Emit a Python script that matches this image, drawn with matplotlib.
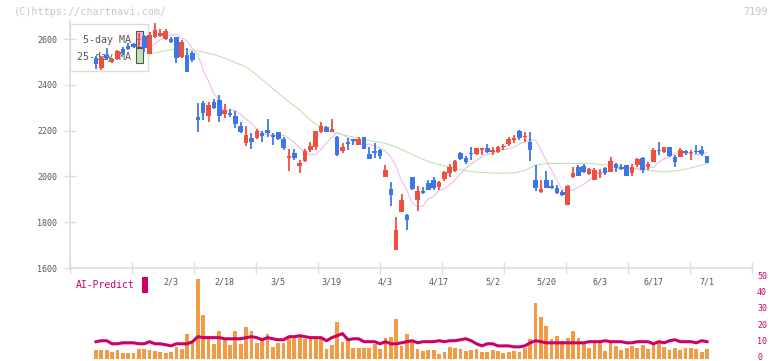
import numpy as np
import pandas as pd
import matplotlib
matplotlib.use('Agg')
import matplotlib.pyplot as plt
import matplotlib.transforms as mtransforms
from matplotlib.patches import Rectangle

# daily OHLC, 115 sessions (red = close above open)
opens = [2518, 2475, 2530, 2501, 2511, 2555, 2571, 2578, 2595, 2614,
         2535, 2609, 2615, 2601, 2599, 2607, 2521, 2530, 2540, 2261,
         2319, 2265, 2324, 2334, 2272, 2278, 2264, 2220, 2147, 2169,
         2166, 2191, 2203, 2181, 2194, 2163, 2082, 2103, 2047, 2069,
         2115, 2130, 2195, 2214, 2195, 2173, 2112, 2150, 2163, 2137,
         2171, 2098, 2111, 2115, 1999, 1945, 1679, 1846, 1831, 1997,
         1897, 1936, 1972, 1984, 1955, 1989, 2016, 2024, 2103, 2082,
         2101, 2098, 2117, 2125, 2108, 2108, 2127, 2141, 2159, 2198,
         2171, 2149, 1984, 1933, 1984, 1958, 1951, 1933, 1875, 1996,
         2042, 2047, 2009, 1984, 2010, 2035, 2021, 2053, 2042, 2050,
         2016, 2050, 2079, 2040, 2064, 2115, 2108, 2127, 2086, 2086,
         2111, 2101, 2111, 2115, 2090]
highs = [2526, 2525, 2562, 2518, 2553, 2566, 2583, 2581, 2625, 2617,
         2630, 2669, 2642, 2644, 2607, 2610, 2595, 2561, 2548, 2322,
         2329, 2324, 2338, 2355, 2316, 2294, 2286, 2236, 2220, 2191,
         2206, 2200, 2251, 2191, 2195, 2173, 2118, 2120, 2072, 2120,
         2149, 2198, 2236, 2220, 2251, 2178, 2145, 2166, 2163, 2171,
         2172, 2127, 2147, 2118, 2050, 1977, 1824, 1923, 1835, 1999,
         1958, 1955, 1984, 1999, 1980, 2024, 2053, 2072, 2108, 2089,
         2130, 2125, 2125, 2141, 2130, 2134, 2140, 2173, 2181, 2203,
         2195, 2195, 2050, 1984, 2024, 1984, 1962, 1941, 1962, 2042,
         2050, 2053, 2038, 2038, 2032, 2042, 2086, 2060, 2053, 2050,
         2053, 2082, 2086, 2064, 2123, 2152, 2130, 2130, 2093, 2123,
         2115, 2115, 2137, 2133, 2090]
lows = [2470, 2465, 2508, 2494, 2508, 2531, 2552, 2559, 2566, 2542,
        2535, 2604, 2607, 2596, 2581, 2497, 2517, 2456, 2500, 2195,
        2246, 2239, 2294, 2239, 2256, 2261, 2213, 2188, 2133, 2120,
        2162, 2152, 2173, 2137, 2159, 2115, 2025, 2072, 2016, 2062,
        2108, 2115, 2190, 2194, 2194, 2089, 2104, 2115, 2137, 2137,
        2120, 2076, 2082, 2076, 1999, 1871, 1679, 1846, 1766, 1941,
        1851, 1922, 1941, 1941, 1941, 1980, 1999, 2020, 2072, 2054,
        2072, 2093, 2093, 2102, 2093, 2101, 2115, 2134, 2147, 2159,
        2149, 2069, 1938, 1926, 1948, 1945, 1923, 1914, 1873, 1992,
        2002, 2014, 2006, 1984, 1994, 2006, 2021, 2021, 2028, 2002,
        2003, 2040, 2014, 2028, 2063, 2093, 2101, 2085, 2042, 2085,
        2093, 2072, 2096, 2090, 2057]
closes = [2490, 2518, 2518, 2511, 2548, 2540, 2555, 2566, 2600, 2562,
          2617, 2639, 2628, 2637, 2587, 2519, 2587, 2457, 2508, 2246,
          2278, 2312, 2300, 2265, 2290, 2268, 2230, 2194, 2181, 2151,
          2200, 2178, 2188, 2173, 2165, 2125, 2089, 2082, 2060, 2112,
          2133, 2198, 2221, 2195, 2207, 2093, 2127, 2143, 2156, 2163,
          2121, 2077, 2103, 2090, 2028, 1919, 1766, 1897, 1810, 1945,
          1936, 1929, 1941, 1948, 1977, 2020, 2042, 2067, 2076, 2064,
          2097, 2123, 2123, 2105, 2112, 2127, 2133, 2163, 2169, 2169,
          2176, 2115, 1948, 1946, 1948, 1951, 1926, 1919, 1959, 2016,
          2003, 2020, 2032, 2028, 2016, 2016, 2069, 2035, 2031, 2003,
          2040, 2075, 2028, 2054, 2115, 2111, 2127, 2090, 2064, 2115,
          2101, 2105, 2105, 2096, 2057]

# 25-day moving average, read every second session from index 10
ma25_idx = list(range(10, 115, 2))
ma25 = [2534, 2545, 2554, 2556, 2552, 2543, 2532, 2517, 2497, 2478,
        2443, 2403, 2364, 2325, 2290, 2246, 2211, 2194, 2183, 2172,
        2161, 2152, 2144, 2128, 2107, 2085, 2065, 2052, 2041, 2030,
        2021, 2017, 2015, 2014, 2015, 2026, 2050, 2056, 2057, 2057,
        2057, 2057, 2052, 2048, 2041, 2035, 2030, 2024, 2020, 2024,
        2032, 2043, 2056]

# lower panel
volume = [5.6, 5.6, 5.6, 4.4, 5.6, 3.8, 3.8, 3.8, 6.3, 6.3, 5.6, 5.0, 4.4, 3.8, 4.4, 7.5, 6.3, 15.7, 11.3,
          49.6, 27, 14.4, 9.4, 17.6, 12.5, 8.8, 17.6, 9.4, 19.5, 17.6, 10, 12.5, 15.7, 7.5, 10, 10, 14.4, 14.4,
          13.8, 12.5, 12.5, 12.5, 13.8, 6.3, 8.8, 22.6, 10.7, 12.5, 6.9, 6.9, 6.9, 6.9, 9.4, 6.3, 13.2, 13.8, 24.5,
          8.1, 15.7, 10.7, 6.3, 5.0, 5.6, 5.6, 3.1, 4.4, 7.5, 6.9, 6.3, 5.0, 5.6, 6.3, 4.4, 4.4, 5.6, 5.0,
          3.8, 4.4, 5.0, 4.4, 6.9, 12.5, 34.5, 25.7, 20.1, 12.5, 14.4, 11.3, 13.2, 17.6, 13.2, 10, 6.9, 10, 11.9,
          5.0, 11.3, 8.1, 5.6, 6.9, 8.1, 6.9, 8.8, 6.3, 8.8, 10.7, 7.5, 5.6, 6.9, 5.6, 6.9, 6.9, 6.3, 4.4, 6.3]
ai_predict = [10.7, 11.3, 11.3, 9.4, 9.4, 10, 10, 10, 9.4, 9.4, 10.7, 9.4, 9.4, 8.8, 8.1, 9.4, 9.4, 9.4, 10.7,
              13.8, 13.2, 13.2, 13.2, 13.2, 12.5, 12.5, 12.5, 12.5, 13.2, 13.8, 13.2, 11.9, 13.2, 12.5, 11.9, 11.9, 13.8, 13.8,
              14.4, 13.8, 13.2, 13.2, 13.2, 11.3, 13.2, 14.4, 15.7, 11.9, 12.5, 12.5, 10.7, 10.7, 10.7, 9.4, 10.7, 9.4, 9.4,
              10, 10.7, 11.3, 10, 10.7, 10.7, 10.7, 11.3, 10.7, 11.3, 11.3, 11.9, 12.5, 11.3, 9.4, 8.1, 9.4, 9.4, 8.1,
              8.1, 8.1, 7.5, 7.5, 8.1, 10, 11.3, 10.7, 10, 10, 10, 10, 10, 10, 10, 10, 10.7, 10.7, 10.7,
              11.3, 10.7, 10.7, 10.7, 10, 10, 10.7, 10.7, 10.7, 9.4, 10.7, 10, 11.3, 11.9, 10.7, 10.7, 10.7, 10, 11.3, 10.7]

date_labels = ['2/3', '2/18', '3/5', '3/19', '4/3', '4/17', '5/2', '5/20', '6/3', '6/17', '7/1']
date_idx = [14, 24, 34, 44, 54, 64, 74, 84, 94, 104, 114]
price_ticks = [1600, 1800, 2000, 2200, 2400, 2600]
ai_ticks = [0, 10, 20, 30, 40, 50]

RED = '#f04e3e'
BLUE = '#3f76e6'
PINK = '#ebbdf0'
GREEN = '#bfe2b5'
MAGENTA = '#cc0066'
ORANGE = '#f29a44'
GRID = '#dddddd'
TXT = '#555555'
MONO = 'DejaVu Sans Mono'

W, H = 772, 361
fig = plt.figure(figsize=(W / 100, H / 100), dpi=100)
# pixel coordinates measured from the top-left corner
px = mtransforms.Affine2D().scale(1 / W, -1 / H).translate(0, 1) + fig.transFigure

def axes_px(left, top, right, bottom):
    return [left / W, (H - bottom) / H, (right - left) / W, (bottom - top) / H]

n = len(closes)
idx = np.arange(n)
x0 = (70 - 96) / 5.36
x1 = (752 - 96) / 5.36

# price panel
ax = fig.add_axes(axes_px(70, 20, 752, 268))
ax.set_facecolor('none')
o = np.array(opens)
c = np.array(closes)
colors = np.where(c >= o, RED, BLUE)
ax.vlines(idx, lows, highs, colors=colors, lw=1.3, zorder=3)
body_lo = np.minimum(o, c)
body_h = np.maximum(np.abs(c - o), 6)
ax.bar(idx, body_h, bottom=body_lo, width=0.85, color=colors, zorder=4)

ma5 = pd.Series(closes).rolling(5).mean().shift(1)
ax.plot(idx[10:], ma5[10:], color=PINK, lw=0.8, zorder=2)
ax.plot(ma25_idx, ma25, color=GREEN, lw=0.8, zorder=2)

ax.set_xlim(x0, x1)
ax.set_ylim(1600, 2600 + 19 * 200 / 45.8)
ax.set_yticks(price_ticks)
ax.set_yticklabels([str(v) for v in price_ticks], fontfamily=MONO, fontsize=6, color=TXT)
ax.set_xticks(np.linspace(x0, x1, 12))
ax.set_xticklabels([])
ax.tick_params(axis='both', direction='inout', length=8, width=1, color=GRID, pad=5)
for s in ['top', 'right']:
    ax.spines[s].set_visible(False)
for s in ['left', 'bottom']:
    ax.spines[s].set_color(GRID)
    ax.spines[s].set_linewidth(1.2)

# legend box (under the candles)
ax.add_patch(Rectangle((70, 24), 78, 47, transform=px, fill=False, ec=GRID, lw=1, zorder=1, clip_on=False))
ax.add_patch(Rectangle((136, 31), 7, 16, transform=px, fc=PINK, ec='#555555', lw=0.8, zorder=1, clip_on=False))
ax.add_patch(Rectangle((136, 48), 7, 15, transform=px, fc=GREEN, ec='#555555', lw=0.8, zorder=1, clip_on=False))
ax.text(131, 40, '5-day MA', transform=px, ha='right', va='center', fontfamily=MONO, fontsize=7.2, color=TXT, zorder=1)
ax.text(131, 57, '25-day MA', transform=px, ha='right', va='center', fontfamily=MONO, fontsize=7.2, color=TXT, zorder=1)

# date labels
blend = mtransforms.blended_transform_factory(ax.transData, px)
for i, lab in zip(date_idx, date_labels):
    ax.text(i, 282, lab, transform=blend, ha='center', va='center', fontfamily=MONO, fontsize=6, color=TXT)

# AI-Predict panel
ax2 = fig.add_axes(axes_px(70, 276, 752, 359))
ax2.set_facecolor('none')
ax2.bar(idx, volume, width=0.7, color=ORANGE, zorder=1)
ax2.plot(idx, ai_predict, color=MAGENTA, lw=2.2, zorder=2)
ax2.set_xlim(x0, x1)
ax2.set_ylim(0, 51.3)
ax2.set_xticks([])
ax2.set_yticks([])
for s in ax2.spines.values():
    s.set_visible(False)
# right-hand scale, nudged up so the 0 stays inside the picture
rblend = mtransforms.blended_transform_factory(px, ax2.transData)
rlab = mtransforms.offset_copy(rblend, fig=fig, x=0, y=1.5, units='dots')
for v in ai_ticks:
    ax2.text(757, v, str(v), transform=rlab, ha='left', va='center',
             fontfamily=MONO, fontsize=6, color=MAGENTA, clip_on=False)

fig.text(76, 285, 'AI-Predict', transform=px, ha='left', va='center', fontfamily=MONO, fontsize=7, color=MAGENTA)
fig.patches.append(Rectangle((142, 277), 6, 16, transform=px, fc=MAGENTA, ec='none', figure=fig))

# watermark
fig.text(14, 12, '(C)https://chartnavi.com/', transform=px, ha='left', va='center', fontfamily=MONO, fontsize=7.3, color='#c8c8c8')
fig.text(768, 12, '7199', transform=px, ha='right', va='center', fontfamily=MONO, fontsize=7.3, color='#c8c8c8')

fig.savefig('out.png', dpi=100)
